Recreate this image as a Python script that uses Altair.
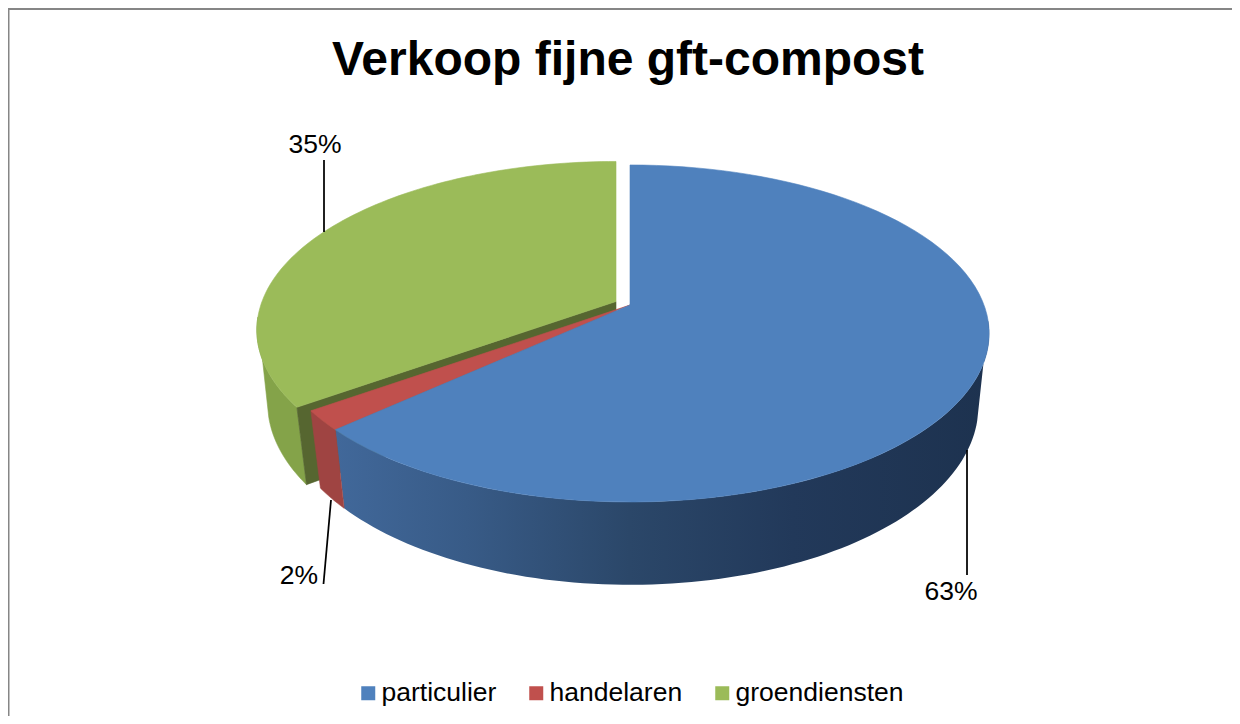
import math
import altair as alt
import pandas as pd

categories = ["particulier", "handelaren", "groendiensten"]
shares = [63.2, 1.9, 34.9]
share_labels = ["63%", "2%", "35%"]
top_colors = ["#4f81bd", "#c0504d", "#9bbb59"]
side_red = "#9f4442"
side_green = "#84a349"
cut_green = "#566630"
leaders = [
    ("63%", [(967, 450), (967, 575)]),
    ("2%", [(331, 500), (323.5, 584)]),
    ("35%", [(324, 160), (324, 232)]),
]
label_pos = [(951, 592), (299, 576), (315, 145)]

FONT = "Liberation Sans"
K, A, B = 0.169, 354.0, 163.7
CX, CY = 630.0, 305.0
SX, SY, CY2 = 0.97, 1.06, 376.0


def top(pct, dx=0.0, dy=0.0):
    t = math.radians(pct * 3.6)
    X, Y = math.sin(t), math.cos(t)
    w = 1 + K * Y
    return (CX + dx + A * X / w, CY + dy - B * Y / w)


def bottom(pct, dx=0.0, dy=0.0):
    t = math.radians(pct * 3.6)
    X, Y = math.sin(t), math.cos(t)
    w = 1 + K * Y
    return (CX + dx + SX * A * X / w, CY2 + dy - SY * B * Y / w)


def pcts(a, b, n=90):
    return [a + (b - a) * i / n for i in range(n + 1)]


xs = alt.Scale(domain=[8, 1232], nice=False, zero=False)
ys = alt.Scale(domain=[716, 8], nice=False, zero=False)


def poly(points, **mark):
    pts = list(points) + [points[0]]
    df = pd.DataFrame({"x": [p[0] for p in pts], "y": [p[1] for p in pts], "o": range(len(pts))})
    return alt.Chart(df).mark_line(interpolate="linear", **mark).encode(
        x=alt.X("x:Q", scale=xs, axis=None),
        y=alt.Y("y:Q", scale=ys, axis=None),
        order="o:Q",
    )


def solid(points, color):
    return poly(points, fill=color, stroke=color, strokeWidth=0.6)


b1 = shares[0]
b2 = shares[0] + shares[1]
GX, GY = -14.0, -3.5

blue_gradient = alt.Gradient(
    gradient="linear", x1=0, x2=1, y1=0, y2=0,
    stops=[
        alt.GradientStop(color="#41689a", offset=0),
        alt.GradientStop(color="#385b87", offset=0.2),
        alt.GradientStop(color="#2b4769", offset=0.45),
        alt.GradientStop(color="#22395a", offset=0.7),
        alt.GradientStop(color="#1d324f", offset=1),
    ],
)

layers = []
# green piece, pulled out of the pie
layers.append(solid([top(p, GX, GY) for p in pcts(b2, 73.5)] + [bottom(p, GX, GY) for p in pcts(71, b2)], side_green))
layers.append(solid([top(0, GX, GY)[0:1] + (CY + GY,), top(b2, GX, GY), bottom(b2, GX, GY), (CX + GX, CY2 + GY)], cut_green))
layers.append(solid([(CX + GX, CY + GY)] + [top(p, GX, GY) for p in pcts(b2, 100)], top_colors[2]))
# sides of the other two pieces
layers.append(poly([top(p) for p in pcts(26.5, b1)] + [bottom(p) for p in pcts(b1, 29)], fill=blue_gradient, strokeWidth=0))
layers.append(solid([top(p) for p in pcts(b1, b2, 8)] + [bottom(p) for p in pcts(b2, b1, 8)], side_red))
# tops
layers.append(solid([(CX, CY)] + [top(p) for p in pcts(b1, b2, 8)], top_colors[1]))
layers.append(solid([(CX, CY)] + [top(p) for p in pcts(0, b1)], top_colors[0]))

# leader lines
for name, pts in leaders:
    df = pd.DataFrame({"x": [p[0] for p in pts], "y": [p[1] for p in pts], "o": [0, 1]})
    layers.append(alt.Chart(df).mark_line(color="#000000", strokeWidth=1.75).encode(
        x=alt.X("x:Q", scale=xs, axis=None), y=alt.Y("y:Q", scale=ys, axis=None), order="o:Q"))

# percentage labels
lab = pd.DataFrame({"t": share_labels, "x": [p[0] for p in label_pos], "y": [p[1] for p in label_pos]})
layers.append(alt.Chart(lab).mark_text(font=FONT, fontSize=26.5, color="#000000", align="center", baseline="middle").encode(
    x=alt.X("x:Q", scale=xs, axis=None), y=alt.Y("y:Q", scale=ys, axis=None), text="t:N"))

# frame of the chart area (left and top edges are inside the picture)
frame_l = pd.DataFrame({"x": [8.5], "y": [8], "y2": [716]})
frame_t = pd.DataFrame({"y": [9], "x": [8], "x2": [1232]})
layers.append(alt.Chart(frame_l).mark_rule(color="#868686", strokeWidth=2).encode(
    x=alt.X("x:Q", scale=xs, axis=None), y=alt.Y("y:Q", scale=ys, axis=None), y2="y2:Q"))
layers.append(alt.Chart(frame_t).mark_rule(color="#868686", strokeWidth=2).encode(
    y=alt.Y("y:Q", scale=ys, axis=None), x=alt.X("x:Q", scale=xs, axis=None), x2="x2:Q"))

# legend
leg = pd.DataFrame({"c": categories, "s": shares})
layers.append(alt.Chart(leg).mark_square(size=0, opacity=1).encode(
    color=alt.Color("c:N", scale=alt.Scale(domain=categories, range=top_colors), legend=alt.Legend(
        orient="none", legendX=347, legendY=672, direction="horizontal", title=None,
        symbolType="square", symbolSize=196, symbolStrokeWidth=0, symbolOpacity=1, labelFont=FONT, labelFontSize=26.5,
        labelColor="#000000", labelOffset=0, labelLimit=400, columns=3, columnPadding=26, gridAlign="none", padding=0)),
))

chart = alt.layer(*layers).properties(
    width=1224, height=708, padding=0,
    autosize=alt.AutoSizeParams(type="none"),
    background="#ffffff",
    title=alt.TitleParams("Verkoop fijne gft-compost", font=FONT, fontSize=48, fontWeight="bold",
                          color="#000000", anchor="middle", offset=0, dx=8, dy=78),
).configure_view(stroke=None)

chart.save("out.html", embed_options={"renderer": "svg", "actions": False})
